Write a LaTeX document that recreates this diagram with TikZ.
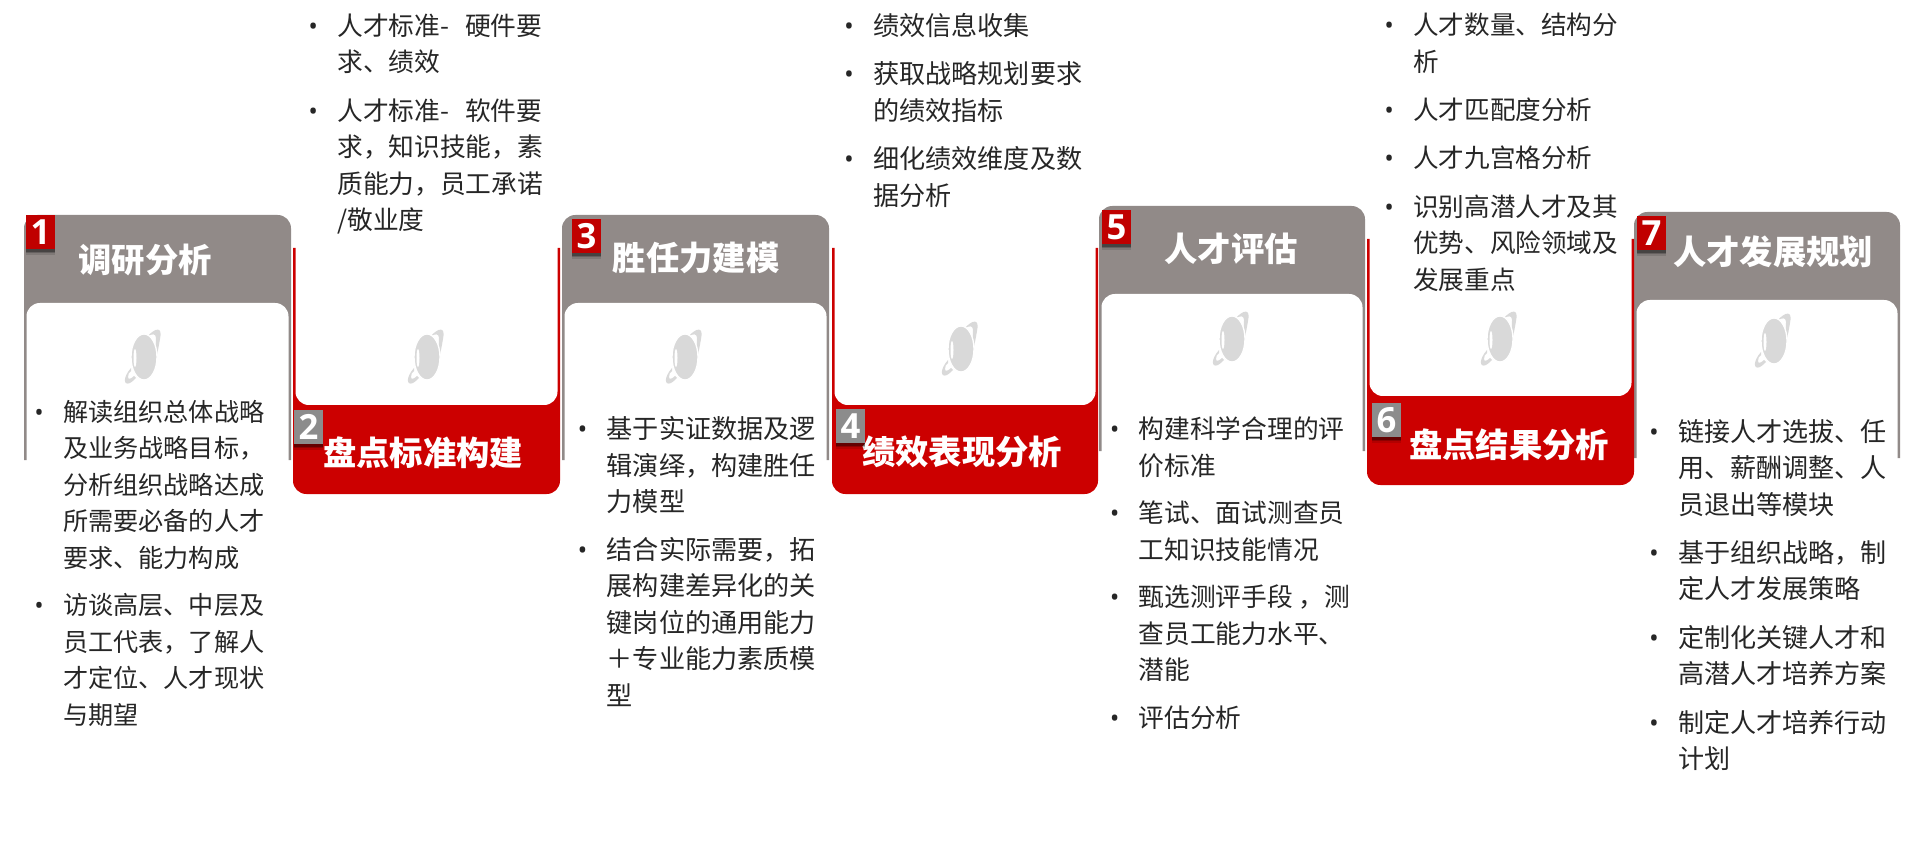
\documentclass[tikz,border=0pt]{standalone}
\usepackage{fontspec}
\setmainfont{Noto Sans CJK SC}
\newfontfamily\numfont{Open Sans}
\usetikzlibrary{shadows}
\definecolor{cardgrey}{HTML}{918A88}
\definecolor{cardred}{HTML}{CC0000}
\definecolor{badgered}{HTML}{C00000}
\definecolor{badgegrey}{HTML}{8C8C8C}
\definecolor{icongrey}{HTML}{D9D9D9}
\definecolor{bodyink}{HTML}{262626}
\newcommand{\bul}{\llap{{\numfont\textbullet}\hspace{14.5pt}}}
\tikzset{
  greycard/.style={fill=cardgrey},
  redcard/.style={fill=cardred},
  whitecard/.style={fill=white},
  cardtitle/.style={text=white, font=\fontsize{25}{30}\selectfont\bfseries, inner sep=0pt},
  bodytext/.style={anchor=north west, inner sep=0pt, align=left, text=bodyink, font=\fontsize{#1}{27.3}\selectfont},
  badge/.style={anchor=north west, inner sep=0pt, minimum width=21.5pt, minimum height=25.5pt, text=white,
    font=\fontsize{26}{26}\selectfont\numfont\bfseries,
    drop shadow={shadow xshift=0pt, shadow yshift=-4pt, fill=black, opacity=.12},
    drop shadow={shadow xshift=0pt, shadow yshift=-3pt, fill=black, opacity=.2},
    drop shadow={shadow xshift=0pt, shadow yshift=-2pt, fill=black, opacity=.3}},
  planet/.pic={
    \fill[icongrey] (5,-22) .. controls (12,-30) and (20,-32) .. (17,-19) .. controls (15,-7) and (13,3) .. (8,14) -- (6,10) .. controls (11,0) and (13,-10) .. (13,-20) .. controls (13,-25) and (9,-24) .. (5,-22) -- cycle;
    \fill[icongrey] (-12,10) .. controls (-20,19) and (-20,28) .. (-13,25) .. controls (-11,24) and (-9,22) .. (-7,20) -- (-9,18) .. controls (-12,21) and (-15,22) .. (-15,19) .. controls (-15,16) and (-14,14) .. (-12,13) -- cycle;
    \fill[icongrey, draw=white, line width=1pt] (1,-1) ellipse (13 and 23);
    \fill[white] (-8,0) ellipse (1.5 and 9);
  },
}
\begin{document}
\begin{tikzpicture}[x=.75pt,y=-.75pt]
  \useasboundingbox (0,0) rectangle (1906,841);
  \coordinate (card1) at (24,215);
  \coordinate (card2) at (293,248);
  \coordinate (card3) at (562,215);
  \coordinate (card4) at (832,248);
  \coordinate (card5) at (1099,206);
  \coordinate (card6) at (1367,239);
  \coordinate (card7) at (1634,212);

  % grey cards
  \path[greycard] (card1) +(0,245) [rounded corners=10pt] -- +(0,0) -- +(267,0) [sharp corners] -- +(267,245) -- cycle;
  \path[whitecard] (card1) +(2.5,246) [rounded corners=10pt] -- +(2.5,88) -- +(264.5,88) [sharp corners] -- +(264.5,246) -- cycle;
  \path[greycard] (card3) +(0,245) [rounded corners=10pt] -- +(0,0) -- +(267,0) [sharp corners] -- +(267,245) -- cycle;
  \path[whitecard] (card3) +(2.5,246) [rounded corners=10pt] -- +(2.5,88) -- +(264.5,88) [sharp corners] -- +(264.5,246) -- cycle;
  \path[greycard] (card5) +(0,245) [rounded corners=10pt] -- +(0,0) -- +(266,0) [sharp corners] -- +(266,245) -- cycle;
  \path[whitecard] (card5) +(2.5,246) [rounded corners=10pt] -- +(2.5,88) -- +(263.5,88) [sharp corners] -- +(263.5,246) -- cycle;
  \path[greycard] (card7) +(0,246) [rounded corners=10pt] -- +(0,0) -- +(266,0) [sharp corners] -- +(266,246) -- cycle;
  \path[whitecard] (card7) +(2.5,247) [rounded corners=10pt] -- +(2.5,88) -- +(263.5,88) [sharp corners] -- +(263.5,247) -- cycle;

  % red cards
  \path[redcard] (card2) +(0,0) [rounded corners=10pt] -- +(0,246) -- +(267,246) [sharp corners] -- +(267,0) -- cycle;
  \path[whitecard] (card2) +(2.5,-1) [rounded corners=10pt] -- +(2.5,157) -- +(264.5,157) [sharp corners] -- +(264.5,-1) -- cycle;
  \path[redcard] (card4) +(0,0) [rounded corners=10pt] -- +(0,246) -- +(266,246) [sharp corners] -- +(266,0) -- cycle;
  \path[whitecard] (card4) +(2.5,-1) [rounded corners=10pt] -- +(2.5,157) -- +(263.5,157) [sharp corners] -- +(263.5,-1) -- cycle;
  \path[redcard] (card6) +(0,0) [rounded corners=10pt] -- +(0,246) -- +(267,246) [sharp corners] -- +(267,0) -- cycle;
  \path[whitecard] (card6) +(2.5,-1) [rounded corners=10pt] -- +(2.5,157) -- +(264.5,157) [sharp corners] -- +(264.5,-1) -- cycle;

  \pic at (143,358) {planet};
  \pic at (426,358) {planet};
  \pic at (684,358) {planet};
  \pic at (960,350) {planet};
  \pic at (1231,340) {planet};
  \pic at (1499,340) {planet};
  \pic at (1773,342) {planet};

  \node[cardtitle] (title1) at ([shift={(121,45)}]card1) {调研分析};
  \node[cardtitle] (title2) at ([shift={(130,205)}]card2) {盘点标准构建};
  \node[cardtitle] (title3) at ([shift={(134,43)}]card3) {胜任力建模};
  \node[cardtitle] (title4) at ([shift={(130,204)}]card4) {绩效表现分析};
  \node[cardtitle] (title5) at ([shift={(132,43)}]card5) {人才评估};
  \node[cardtitle] (title6) at ([shift={(142,206)}]card6) {盘点结果分析};
  \node[cardtitle] (title7) at ([shift={(139,40)}]card7) {人才发展规划};

  \node[badge, fill=badgered] (badge1) at ([shift={(2,0)}]card1) {1};
  \node[badge, fill=badgegrey] (badge2) at ([shift={(1,162)}]card2) {2};
  \node[badge, fill=badgered] (badge3) at ([shift={(10,4)}]card3) {3};
  \node[badge, fill=badgegrey] (badge4) at ([shift={(4,161)}]card4) {4};
  \node[badge, fill=badgered] (badge5) at ([shift={(3,4)}]card5) {5};
  \node[badge, fill=badgegrey] (badge6) at ([shift={(5,164)}]card6) {6};
  \node[badge, fill=badgered] (badge7) at ([shift={(3,4)}]card7) {7};

  \node[bodytext=18.85] (body1) at ([shift={(39,185)}]card1) {\bul 解读组织总体战略\\及业务战略目标，\\分析组织战略达成\\所需要必备的人才\\要求、能力构成\\[8.5pt]
    \bul 访谈高层、中层及\\员工代表，了解人\\才定位、人才现状\\与期望};
  \node[bodytext=19.3] (body2) at ([shift={(44,-234.5)}]card2) {\bul 人才标准-\hspace{12pt}硬件要\\求、绩效\\[9pt]
    \bul 人才标准-\hspace{12pt}软件要\\求，知识技能，素\\质能力，员工承诺\\/敬业度};
  \node[bodytext=19.6] (body3) at ([shift={(44.5,201.5)}]card3) {\bul 基于实证数据及逻\\辑演绎，构建胜任\\力模型\\[8.5pt]
    \bul 结合实际需要，拓\\展构建差异化的关\\键岗位的通用能力\\＋专业能力素质模\\型};
  \node[bodytext=19.6] (body4) at ([shift={(41,-235)}]card4) {\bul 绩效信息收集\\[9pt]
    \bul 获取战略规划要求\\的绩效指标\\[9pt]
    \bul 细化绩效维度及数\\据分析};
  \node[bodytext=19.3] (body5) at ([shift={(39.5,210.5)}]card5) {\bul 构建科学合理的评\\价标准\\[8.5pt]
    \bul 笔试、面试测查员\\工知识技能情况\\[8.5pt]
    \bul 甄选测评手段 ，测\\查员工能力水平、\\潜能\\[8.5pt]
    \bul 评估分析};
  \node[bodytext=19.2] (body6) at ([shift={(46,-226)}]card6) {\bul 人才数量、结构分\\析\\[9pt]
    \bul 人才匹配度分析\\[9pt]
    \bul 人才九宫格分析\\[9pt]
    \bul 识别高潜人才及其\\优势、风险领域及\\发展重点};
  \node[bodytext=19.55] (body7) at ([shift={(44,207)}]card7) {\bul 链接人才选拔、任\\用、薪酬调整、人\\员退出等模块\\[9pt]
    \bul 基于组织战略，制\\定人才发展策略\\[9pt]
    \bul 定制化关键人才和\\高潜人才培养方案\\[9pt]
    \bul 制定人才培养行动\\计划};
\end{tikzpicture}
\end{document}
